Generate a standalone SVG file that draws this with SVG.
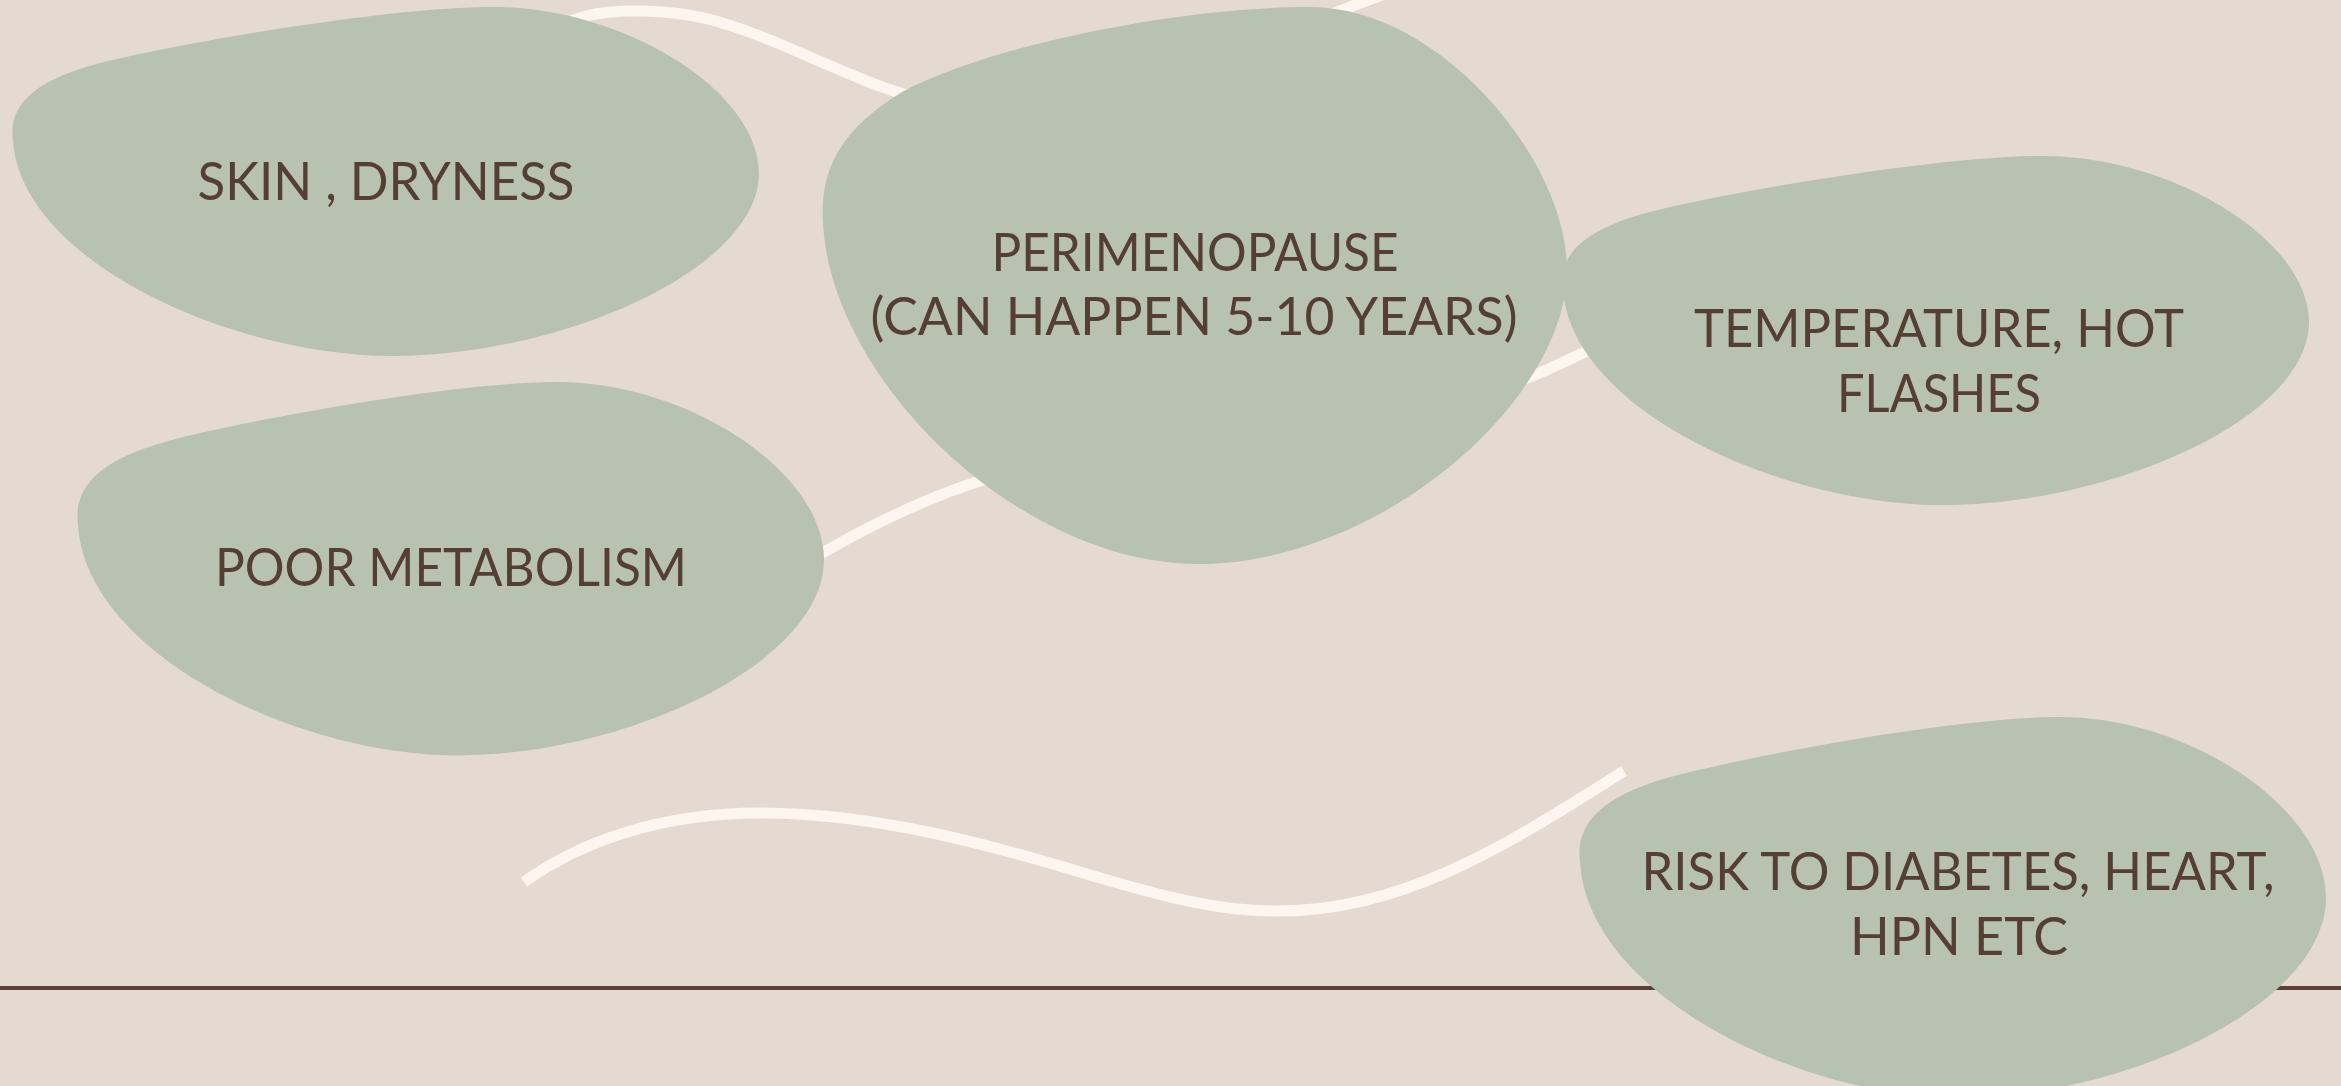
<svg xmlns="http://www.w3.org/2000/svg" xmlns:xlink="http://www.w3.org/1999/xlink" width="2341" height="1086" viewBox="0 0 2341 1086">
  <style>
    .bg { fill: #E4DAD0; }
    .blob { fill: #B8C2B0; }
    .curve { fill: none; stroke: #FDF5EF; stroke-width: 11; stroke-linecap: butt; }
    .rule { stroke: #5A4037; stroke-width: 4; }
    .label { font-family: Lato, "Open Sans", "Liberation Sans", sans-serif; font-size: 52px; fill: #553E34; text-anchor: middle; }
  </style>
  <defs>
    <path id="blobA" d="M 13,140 C 8,105 35,80 100,63 C 170,45 380,8 488,7 C 620,5 759,90 759,173 C 759,270 560,356 393,356 C 230,356 20,260 13,140 Z"/>
  </defs>
  <rect class="bg" x="0" y="0" width="2341" height="1086"/>
  <g id="decor">
    <line class="rule" x1="0" y1="988" x2="2341" y2="988"/>
  </g>
  <g id="connectors">
    <path class="curve" d="M 540,40 C 570,15 600,10 643,11 C 690,12 720,20 770,40 C 830,65 870,85 911,96 C 1000,125 1150,85 1337,12 C 1360,3 1380,-4 1400,-12"/>
    <path class="curve" d="M 800,566 C 860,530 920,500 980,481 C 1150,430 1400,430 1530,377 C 1555,367 1580,354 1615,338"/>
    <path class="curve" d="M 524,882 C 580,842 660,813 760,813 C 880,813 1000,848 1080,872 C 1160,896 1220,912 1279,911 C 1400,911 1500,850 1624,771"/>
  </g>
  <g id="node-skin">
    <use xlink:href="#blobA" href="#blobA" class="blob"/>
    <text class="label" x="386" y="200" textLength="377" lengthAdjust="spacingAndGlyphs">SKIN , DRYNESS</text>
  </g>
  <g id="node-metabolism">
    <use xlink:href="#blobA" href="#blobA" class="blob" transform="translate(65,374.5) scale(1,1.07)"/>
    <text class="label" x="451" y="586" textLength="472" lengthAdjust="spacingAndGlyphs">POOR METABOLISM</text>
  </g>
  <g id="node-perimenopause">
    <path class="blob" d="M 823,222 C 820,170 840,130 902,92 C 990,45 1180,7 1310,7 C 1440,7 1567,160 1567,270 C 1567,400 1380,564 1198,564 C 1020,564 830,380 823,222 Z"/>
    <text class="label" x="1195" y="271" textLength="407" lengthAdjust="spacingAndGlyphs">PERIMENOPAUSE</text>
    <text class="label" x="1194" y="335" textLength="647" lengthAdjust="spacingAndGlyphs">(CAN HAPPEN 5-10 YEARS)</text>
  </g>
  <g id="node-temperature">
    <use xlink:href="#blobA" href="#blobA" class="blob" transform="translate(1550,149)"/>
    <text class="label" x="1939" y="347" textLength="490" lengthAdjust="spacingAndGlyphs">TEMPERATURE, HOT</text>
    <text class="label" x="1939" y="412" textLength="204" lengthAdjust="spacingAndGlyphs">FLASHES</text>
  </g>
  <g id="node-risk">
    <use xlink:href="#blobA" href="#blobA" class="blob" transform="translate(1567,709.4) scale(1,1.09)"/>
    <text class="label" x="1958" y="890" textLength="633" lengthAdjust="spacingAndGlyphs">RISK TO DIABETES, HEART,</text>
    <text class="label" x="1959" y="955" textLength="218" lengthAdjust="spacingAndGlyphs">HPN ETC</text>
  </g>
</svg>
